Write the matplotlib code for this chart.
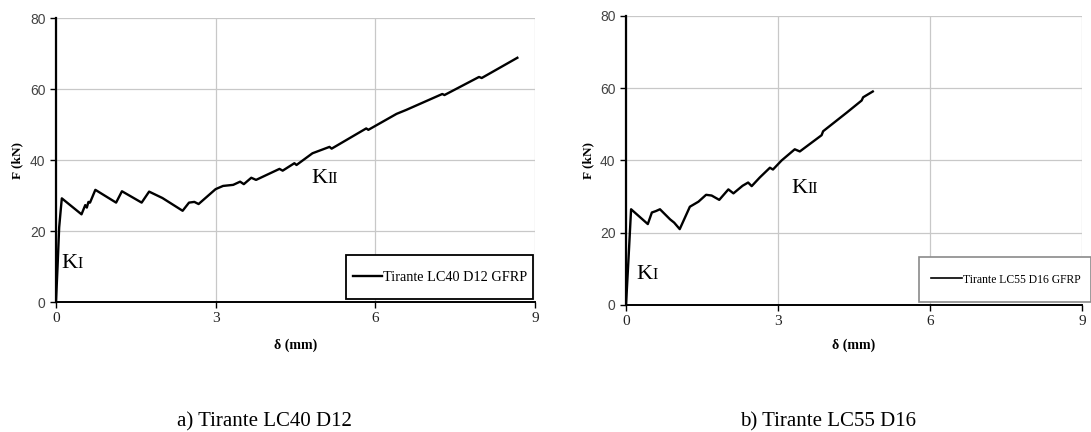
import matplotlib
matplotlib.use("Agg")
from matplotlib import pyplot as plt
from matplotlib.patches import Rectangle

# LC40 D12 curve (delta in mm, F in kN)
d_lc40 = [0, 0.03, 0.06, 0.09, 0.11, 0.48, 0.55, 0.58, 0.61, 0.64, 0.74, 1.13, 1.24, 1.61, 1.75,
          2.0, 2.38, 2.5, 2.6, 2.68, 3.0, 3.14, 3.33, 3.46, 3.53, 3.67, 3.76, 4.2, 4.26, 4.48,
          4.52, 4.82, 5.14, 5.18, 5.83, 5.87, 6.4, 6.58, 7.26, 7.3, 7.95, 8.0, 8.67]
f_lc40 = [0, 10, 21, 26, 29.2, 24.7, 27.3, 26.6, 28.2, 28.0, 31.6, 28.0, 31.2, 28.0, 31.1,
          29.3, 25.7, 28.0, 28.2, 27.6, 31.8, 32.7, 33.0, 33.9, 33.2, 35.0, 34.4, 37.5, 37.0, 39.1,
          38.6, 41.9, 43.7, 43.2, 48.9, 48.5, 53.0, 54.1, 58.6, 58.3, 63.4, 63.1, 68.8]

# LC55 D16 curve
d_lc55 = [0, 0.05, 0.1, 0.43, 0.51, 0.59, 0.67, 0.87, 0.95, 1.06, 1.26, 1.43, 1.58, 1.69, 1.84,
          2.02, 2.12, 2.3, 2.41, 2.48, 2.64, 2.84, 2.9, 3.07, 3.33, 3.43, 3.86, 3.89, 4.36, 4.65,
          4.68, 4.87]
f_lc55 = [0, 13, 26.5, 22.4, 25.6, 26.0, 26.5, 23.7, 22.8, 21.0, 27.2, 28.6, 30.5, 30.3, 29.1,
          32.0, 30.9, 33.0, 33.9, 32.9, 35.3, 38.0, 37.5, 40.0, 43.1, 42.5, 47.0, 48.1, 53.3, 56.6,
          57.5, 59.1]

x_ticks = [0, 3, 6, 9]
y_ticks = [0, 20, 40, 60, 80]

SERIF = "Liberation Serif"
SANS = "Liberation Sans"

fig = plt.figure(figsize=(10.91, 4.32), dpi=100)
ax1 = fig.add_axes([0.0513, 0.3009, 0.439, 0.6574])
ax2 = fig.add_axes([0.5738, 0.294, 0.418, 0.669])


def k_label(ax, x, y, sub):
    # "K" followed by a smaller roman numeral
    t = ax.text(x, y, "K", fontsize=16, family=SERIF, va="baseline", ha="left")
    ax.annotate(sub, xy=(1, 0), xycoords=t, fontsize=11.5, family=SERIF,
                va="bottom", ha="left", xytext=(0, 0.5), textcoords="offset points")


def style(ax, ylab_x, xlab_y):
    ax.set_xlim(0, 9)
    ax.set_ylim(0, 80)
    ax.set_xticks(x_ticks)
    ax.set_yticks(y_ticks)
    ax.grid(True, color="#c8c8c8", linewidth=0.9)
    ax.set_axisbelow(True)
    for s in ["top", "right"]:
        ax.spines[s].set_visible(False)
    ax.spines["left"].set_linewidth(1.6)
    ax.spines["bottom"].set_linewidth(1.4)
    ax.tick_params(direction="out", length=4, width=1, color="black")
    for lab in ax.get_xticklabels():
        lab.set_family(SERIF)
        lab.set_fontsize(11)
        lab.set_color("#222222")
    for lab in ax.get_yticklabels():
        lab.set_family(SANS)
        lab.set_fontsize(10)
        lab.set_color("#444444")
    ax.set_xlabel("δ (mm)", fontsize=10, fontweight="bold", family=SERIF)
    ax.set_ylabel("F (kN)", fontsize=9.5, fontweight="bold", family=SERIF)
    ax.yaxis.set_label_coords(ylab_x, 0.5)
    ax.xaxis.set_label_coords(0.5, xlab_y)
    ax.xaxis.label.set_va("center")
    ax.yaxis.label.set_va("center")


# a) LC40 D12
ax1.plot(d_lc40, f_lc40, color="black", linewidth=1.7, label="Tirante LC40 D12 GFRP", zorder=4)
style(ax1, -0.081, -0.151)
k_label(ax1, 0.11, 9.6, "I")
k_label(ax1, 4.8, 33.5, "II")
ax1.add_patch(Rectangle((0.605, 0.011), 0.391, 0.154, transform=ax1.transAxes,
                        facecolor="white", edgecolor="black", linewidth=1.3,
                        clip_on=False, zorder=5))
ax1.legend(loc="center", bbox_to_anchor=(0.803, 0.088), frameon=False,
           prop={"family": SERIF, "size": 10.3}, handlelength=2.0, handletextpad=0.1)

# b) LC55 D16
ax2.plot(d_lc55, f_lc55, color="black", linewidth=1.7, label="Tirante LC55 D16 GFRP", zorder=4)
style(ax2, -0.083, -0.138)
k_label(ax2, 0.2, 7.2, "I")
k_label(ax2, 3.27, 31.0, "II")
ax2.add_patch(Rectangle((0.643, 0.010), 0.376, 0.156, transform=ax2.transAxes,
                        facecolor="white", edgecolor="#8a8a8a", linewidth=1.2,
                        clip_on=False, zorder=5))
leg2 = ax2.legend(loc="center", bbox_to_anchor=(0.833, 0.088), frameon=False,
                  prop={"family": SERIF, "size": 8.4}, handlelength=2.7, handletextpad=0.1)
for ln in leg2.get_lines():
    ln.set_linewidth(1.2)

fig.text(264 / 1091, 0.023, "a) Tirante LC40 D12", fontsize=15, family=SERIF,
         ha="center", va="center")
fig.text(828 / 1091, 0.023, "b) Tirante LC55 D16", fontsize=15, family=SERIF,
         ha="center", va="center")

plt.savefig("out.png", dpi=100)
